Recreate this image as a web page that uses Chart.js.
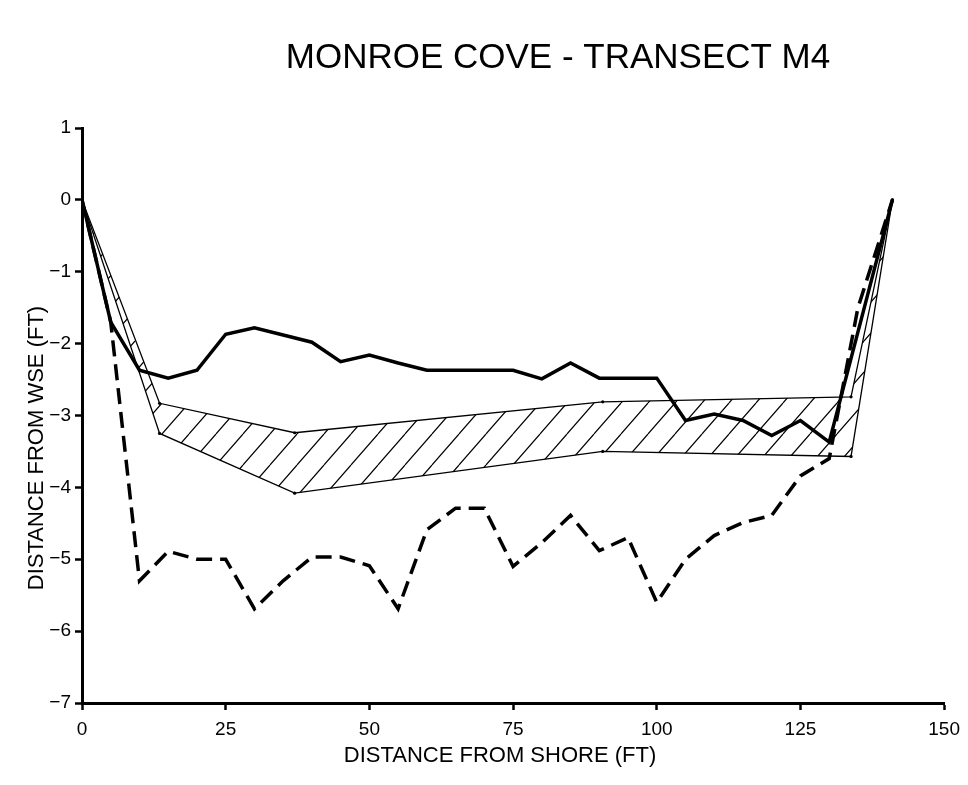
<!DOCTYPE html>
<html>
<head>
<meta charset="utf-8">
<script src="https://cdn.jsdelivr.net/npm/chart.js@4"></script>
<style>
html,body{margin:0;padding:0;background:#fff;}
#wrap{position:relative;width:968px;height:785px;}
</style>
</head>
<body>
<div id="wrap"><canvas id="c" width="968" height="785"></canvas></div>
<script>
// ---- data ----
const chartTitle = "MONROE COVE - TRANSECT M4";
const xAxisTitle = "DISTANCE FROM SHORE (FT)";
const yAxisTitle = "DISTANCE FROM WSE (FT)";

const solidX = [0,5,10,15,20,25,30,35,40,45,50,55,60,65,70,75,80,85,90,95,100,105,110,115,120,125,130,141];
const solidDepth = [0,-1.70,-2.37,-2.48,-2.37,-1.87,-1.78,-1.88,-1.98,-2.25,-2.16,-2.27,-2.37,-2.37,-2.37,-2.37,-2.49,-2.27,-2.48,-2.48,-2.48,-3.07,-2.98,-3.07,-3.28,-3.07,-3.37,0];

const dashedX = [0,5,10,15,20,25,30,35,40,45,50,55,60,65,70,75,80,85,90,95,100,105,110,115,120,125,130,135,141];
const dashedDepth = [0,-1.70,-5.30,-4.89,-5.00,-5.00,-5.69,-5.30,-4.97,-4.97,-5.09,-5.69,-4.59,-4.29,-4.29,-5.10,-4.77,-4.39,-4.88,-4.70,-5.60,-5.00,-4.67,-4.49,-4.39,-3.84,-3.60,-1.50,0];

const bandX = [0,13.5,37,90.6,133.8,141];
const bandTop = [0,-2.83,-3.24,-2.81,-2.74,0];
const bandBottom = [0,-3.25,-4.08,-3.50,-3.57,0];

const xMin = 0, xMax = 150, xStep = 25;
const yMin = -7, yMax = 1, yStep = 1;

// ---- helpers ----
const pts = (xs, ys) => xs.map((x, i) => ({x: x, y: ys[i]}));
const FONT = '"Liberation Sans", Arial, Helvetica, sans-serif';
const minusFmt = v => String(v).replace('-', '\u2212');

function hatchPattern() {
  const w = 27, h = 31;
  const pc = document.createElement('canvas');
  pc.width = w; pc.height = h;
  const p = pc.getContext('2d');
  p.strokeStyle = '#000';
  p.lineWidth = 1.2;
  p.beginPath();
  for (const k of [-1, 0, 1]) {
    p.moveTo(k * w, h);
    p.lineTo((k + 1) * w, 0);
  }
  p.stroke();
  return document.getElementById('c').getContext('2d').createPattern(pc, 'repeat');
}

const textPlugin = {
  id: 'texts',
  afterDraw(chart) {
    const ctx = chart.ctx;
    ctx.save();
    ctx.fillStyle = '#000';
    ctx.textAlign = 'center';
    ctx.textBaseline = 'middle';
    ctx.font = '35px ' + FONT;
    ctx.fillText(chartTitle, 558, 58);
    ctx.font = '22px ' + FONT;
    ctx.fillText(xAxisTitle, 500, 756);
    ctx.translate(37, 448);
    ctx.rotate(-Math.PI / 2);
    ctx.fillText(yAxisTitle, 0, 0);
    ctx.restore();
  }
};

const tickFont = {family: FONT, size: 19};

new Chart(document.getElementById('c'), {
  type: 'line',
  data: {
    datasets: [
      {
        label: 'solid',
        data: pts(solidX, solidDepth),
        borderColor: '#000', borderWidth: 3.5,
        pointRadius: 0, fill: false, tension: 0, order: 0
      },
      {
        label: 'dashed',
        data: pts(dashedX, dashedDepth),
        borderColor: '#000', borderWidth: 3.5, borderDash: [16, 8],
        pointRadius: 0, fill: false, tension: 0, order: 1
      },
      {
        label: 'bandTop',
        data: pts(bandX, bandTop),
        borderColor: '#000', borderWidth: 1.3,
        pointRadius: 1.6, pointBackgroundColor: '#000', pointBorderWidth: 0,
        fill: false, tension: 0, order: 2
      },
      {
        label: 'bandBottom',
        data: pts(bandX, bandBottom),
        borderColor: '#000', borderWidth: 1.3,
        pointRadius: 1.6, pointBackgroundColor: '#000', pointBorderWidth: 0,
        backgroundColor: hatchPattern(),
        fill: 2, tension: 0, order: 3
      }
    ]
  },
  options: {
    responsive: false,
    animation: false,
    events: [],
    layout: {padding: {left: 0, right: 22, top: 128, bottom: 0}},
    plugins: {legend: {display: false}, tooltip: {enabled: false}, title: {display: false}},
    scales: {
      x: {
        type: 'linear', min: xMin, max: xMax,
        ticks: {stepSize: xStep, color: '#000', font: tickFont, padding: 8, maxRotation: 0},
        grid: {drawOnChartArea: false, drawTicks: true, tickLength: 7, tickWidth: 2.5, tickColor: '#000'},
        border: {display: true, color: '#000', width: 3},
        afterFit(s) { s.height = 785 - 703; }
      },
      y: {
        type: 'linear', min: yMin, max: yMax,
        ticks: {stepSize: yStep, color: '#000', font: tickFont, padding: 4, callback: minusFmt},
        grid: {drawOnChartArea: false, drawTicks: true, tickLength: 7, tickWidth: 2.5, tickColor: '#000'},
        border: {display: true, color: '#000', width: 3},
        afterFit(s) { s.width = 82; }
      }
    }
  },
  plugins: [textPlugin]
});
</script>
</body>
</html>
